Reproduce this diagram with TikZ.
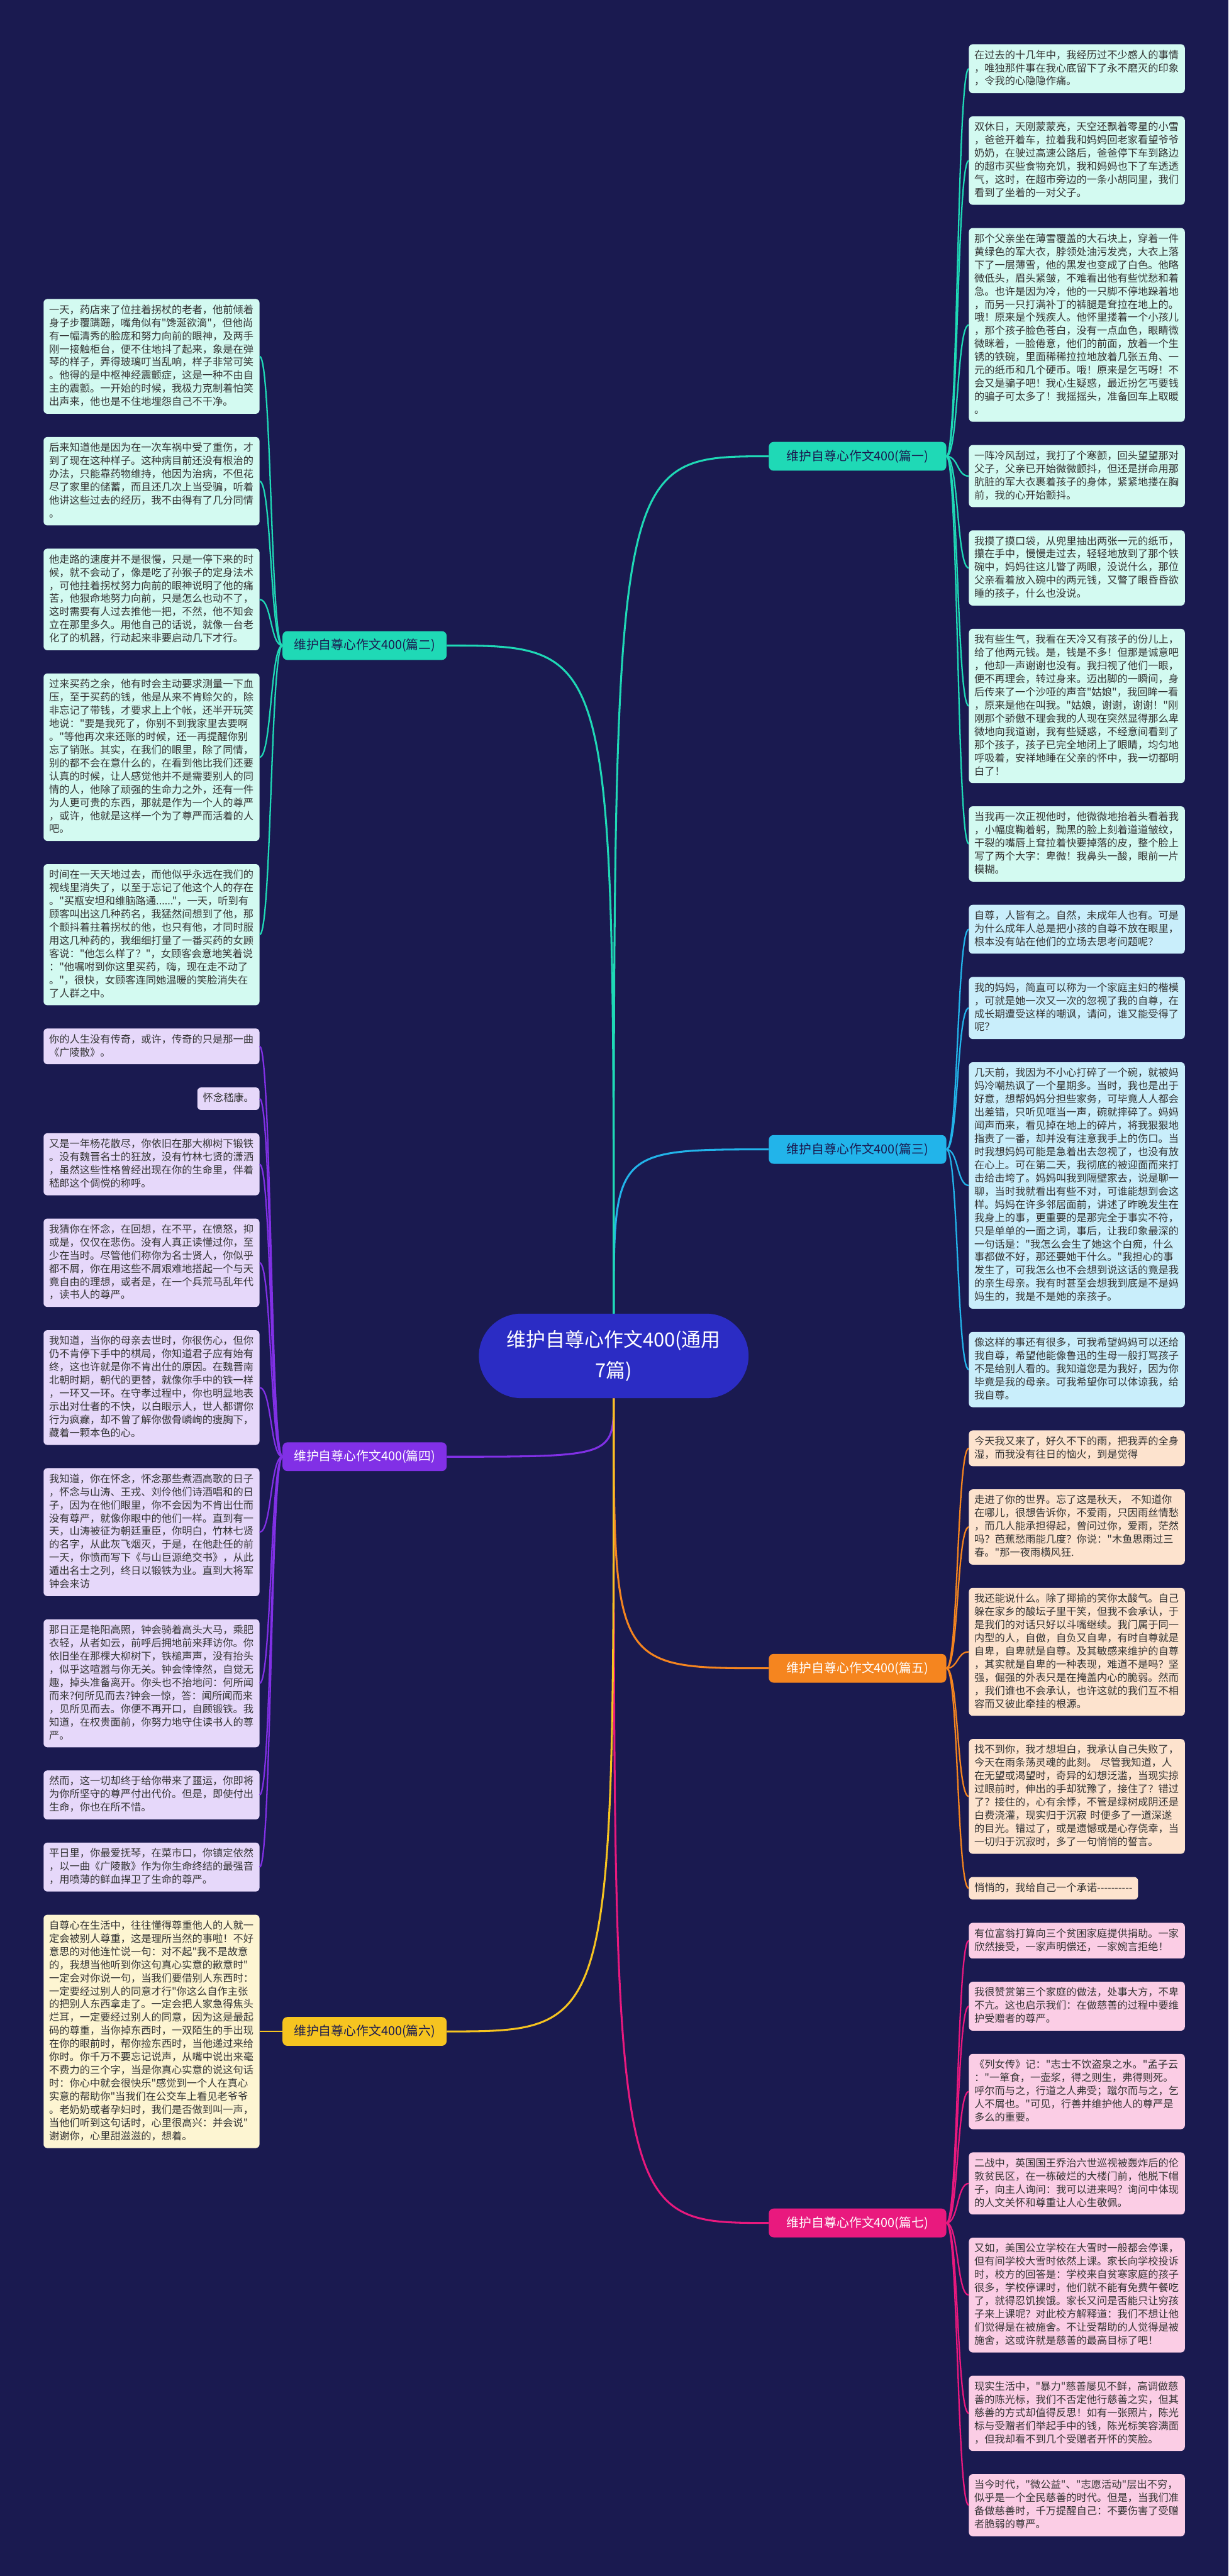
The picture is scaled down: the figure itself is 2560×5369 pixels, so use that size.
\documentclass[tikz,border=0pt]{standalone}
\usepackage{fontspec}
\newfontfamily\cjk{Noto Sans CJK SC}
\usepackage{tikz}
\usetikzlibrary{positioning, calc}
\definecolor{night}{HTML}{1A1A50}
\definecolor{hubblue}{HTML}{2B2CC4}
\definecolor{tealmain}{HTML}{1FD9B6}
\definecolor{tealsoft}{HTML}{D3FAF1}
\definecolor{skymain}{HTML}{22B4EA}
\definecolor{skysoft}{HTML}{C9EEFB}
\definecolor{violetmain}{HTML}{8130E6}
\definecolor{violetsoft}{HTML}{E6D8FA}
\definecolor{orangemain}{HTML}{F5851F}
\definecolor{orangesoft}{HTML}{FDE3CE}
\definecolor{goldmain}{HTML}{F6C420}
\definecolor{goldsoft}{HTML}{FDF5D2}
\definecolor{rosemain}{HTML}{E9197E}
\definecolor{rosesoft}{HTML}{FBCDE5}
\definecolor{inkgray}{HTML}{333333}
\setlength{\parindent}{0pt}
\newcommand{\leafstrut}{\rule[-7.45pt]{0pt}{27.45pt}}
\newcommand{\hy}{-\kern0pt}

\begin{document}
\begin{tikzpicture}[x=1pt, y=-1pt,
  hub/.style={rectangle, rounded corners=88pt, fill=hubblue, text=white, minimum width=562pt,
    minimum height=176pt, align=center, font=\cjk\fontsize{40.5}{65}\selectfont},
  essay/.style={rectangle, rounded corners=10pt, minimum height=60pt, inner sep=0pt,
    font=\cjk\fontsize{26}{30}\selectfont},
  leaf/.style={rectangle, rounded corners=8pt, inner xsep=11.5pt, inner ysep=9.8pt, align=left,
    text=inkgray, font=\cjk\fontsize{21.3}{27.45}\selectfont,
    execute at begin node=\leafstrut, execute at end node=\leafstrut},
  wide/.style={text width=427pt},
  stem/.style={line width=4pt},
  link/.style={line width=3pt}]

  \useasboundingbox (0,0) rectangle (2560,5369);
  \fill[night] (0,0) rectangle (2560,5369);

  \node[hub] (hub) at (1279,2826) {维护自尊心作文400(通用\\7篇)};
  \coordinate (rcol) at (1602,0);
  \coordinate (lcol) at (931,0);

  % right column
  \node[leaf, wide, fill=tealsoft, anchor=north west] (one1) at (2019,92) {在过去的十几年中，我经历过不少感人的事情\\，唯独那件事在我心底留下了永不磨灭的印象\\，令我的心隐隐作痛。};
  \node[leaf, wide, fill=tealsoft, below=48pt of one1.south west, anchor=north west] (one2) {双休日，天刚蒙蒙亮，天空还飘着零星的小雪\\，爸爸开着车，拉着我和妈妈回老家看望爷爷\\奶奶，在驶过高速公路后，爸爸停下车到路边\\的超市买些食物充饥，我和妈妈也下了车透透\\气，这时，在超市旁边的一条小胡同里，我们\\看到了坐着的一对父子。};
  \node[leaf, wide, fill=tealsoft, below=48pt of one2.south west, anchor=north west] (one3) {那个父亲坐在薄雪覆盖的大石块上，穿着一件\\黄绿色的军大衣，脖领处油污发亮，大衣上落\\下了一层薄雪，他的黑发也变成了白色。他略\\微低头，眉头紧皱，不难看出他有些忧愁和着\\急。也许是因为冷，他的一只脚不停地跺着地\\，而另一只打满补丁的裤腿是耷拉在地上的。\\哦！原来是个残疾人。他怀里搂着一个小孩儿\\，那个孩子脸色苍白，没有一点血色，眼睛微\\微眯着，一脸倦意，他们的前面，放着一个生\\锈的铁碗，里面稀稀拉拉地放着几张五角、一\\元的纸币和几个硬币。哦！原来是乞丐呀！不\\会又是骗子吧！我心生疑惑，最近扮乞丐要钱\\的骗子可太多了！我摇摇头，准备回车上取暖\\。};
  \node[leaf, wide, fill=tealsoft, below=48pt of one3.south west, anchor=north west] (one4) {一阵冷风刮过，我打了个寒颤，回头望望那对\\父子，父亲已开始微微颤抖，但还是拼命用那\\肮脏的军大衣裹着孩子的身体，紧紧地搂在胸\\前，我的心开始颤抖。};
  \node[leaf, wide, fill=tealsoft, below=48pt of one4.south west, anchor=north west] (one5) {我摸了摸口袋，从兜里抽出两张一元的纸币，\\攥在手中，慢慢走过去，轻轻地放到了那个铁\\碗中，妈妈往这儿瞥了两眼，没说什么，那位\\父亲看着放入碗中的两元钱，又瞥了眼昏昏欲\\睡的孩子，什么也没说。};
  \node[leaf, wide, fill=tealsoft, below=48pt of one5.south west, anchor=north west] (one6) {我有些生气，我看在天冷又有孩子的份儿上，\\给了他两元钱。是，钱是不多！但那是诚意吧\\，他却一声谢谢也没有。我扫视了他们一眼，\\便不再理会，转过身来。迈出脚的一瞬间，身\\后传来了一个沙哑的声音"姑娘"，我回眸一看\\，原来是他在叫我。"姑娘，谢谢，谢谢！"刚\\刚那个骄傲不理会我的人现在突然显得那么卑\\微地向我道谢，我有些疑惑，不经意间看到了\\那个孩子，孩子已完全地闭上了眼睛，均匀地\\呼吸着，安祥地睡在父亲的怀中，我一切都明\\白了！};
  \node[leaf, wide, fill=tealsoft, below=48pt of one6.south west, anchor=north west] (one7) {当我再一次正视他时，他微微地抬着头看着我\\，小幅度鞠着躬，黝黑的脸上刻着道道皱纹，\\干裂的嘴唇上耷拉着快要掉落的皮，整个脸上\\写了两个大字：卑微！我鼻头一酸，眼前一片\\模糊。};

  \node[leaf, wide, fill=skysoft, below=48pt of one7.south west, anchor=north west] (three1) {自尊，人皆有之。自然，未成年人也有。可是\\为什么成年人总是把小孩的自尊不放在眼里，\\根本没有站在他们的立场去思考问题呢？};
  \node[leaf, wide, fill=skysoft, below=48pt of three1.south west, anchor=north west] (three2) {我的妈妈，简直可以称为一个家庭主妇的楷模\\，可就是她一次又一次的忽视了我的自尊，在\\成长期遭受这样的嘲讽，请问，谁又能受得了\\呢？};
  \node[leaf, wide, fill=skysoft, below=48pt of three2.south west, anchor=north west] (three3) {几天前，我因为不小心打碎了一个碗，就被妈\\妈冷嘲热讽了一个星期多。当时，我也是出于\\好意，想帮妈妈分担些家务，可毕竟人人都会\\出差错，只听见哐当一声，碗就摔碎了。妈妈\\闻声而来，看见掉在地上的碎片，将我狠狠地\\指责了一番，却并没有注意我手上的伤口。当\\时我想妈妈可能是急着出去忽视了，也没有放\\在心上。可在第二天，我彻底的被迎面而来打\\击给击垮了。妈妈叫我到隔壁家去，说是聊一\\聊，当时我就看出有些不对，可谁能想到会这\\样。妈妈在许多邻居面前，讲述了昨晚发生在\\我身上的事，更重要的是那完全于事实不符，\\只是单单的一面之词，事后，让我印象最深的\\一句话是："我怎么会生了她这个白痴，什么\\事都做不好，那还要她干什么。"我担心的事\\发生了，可我怎么也不会想到说这话的竟是我\\的亲生母亲。我有时甚至会想我到底是不是妈\\妈生的，我是不是她的亲孩子。};
  \node[leaf, wide, fill=skysoft, below=48pt of three3.south west, anchor=north west] (three4) {像这样的事还有很多，可我希望妈妈可以还给\\我自尊，希望他能像鲁迅的生母一般打骂孩子\\不是给别人看的。我知道您是为我好，因为你\\毕竟是我的母亲。可我希望你可以体谅我，给\\我自尊。};

  \node[leaf, wide, fill=orangesoft, below=48pt of three4.south west, anchor=north west] (five1) {今天我又来了，好久不下的雨，把我弄的全身\\湿，而我没有往日的恼火，到是觉得};
  \node[leaf, wide, fill=orangesoft, below=48pt of five1.south west, anchor=north west] (five2) {走进了你的世界。忘了这是秋天， 不知道你\\在哪儿，很想告诉你，不爱雨，只因雨丝情愁\\，而几人能承担得起，曾问过你，爱雨，茫然\\吗？芭蕉愁雨能几度？你说："木鱼思雨过三\\春。"那一夜雨横风狂.};
  \node[leaf, wide, fill=orangesoft, below=48pt of five2.south west, anchor=north west] (five3) {我还能说什么。除了揶揄的笑你太酸气。自己\\躲在家乡的酸坛子里干笑，但我不会承认，于\\是我们的对话只好以斗嘴继续。我门属于同一\\内型的人，自傲，自负又自卑，有时自尊就是\\自卑，自卑就是自尊。及其敏感来维护的自尊\\，其实就是自卑的一种表现，难道不是吗？坚\\强，倔强的外表只是在掩盖内心的脆弱。然而\\，我们谁也不会承认，也许这就的我们互不相\\容而又彼此牵挂的根源。};
  \node[leaf, wide, fill=orangesoft, below=48pt of five3.south west, anchor=north west] (five4) {找不到你，我才想坦白，我承认自己失败了，\\今天在雨条荡灵魂的此刻。 尽管我知道，人\\在无望或渴望时，奇异的幻想泛滥，当现实掠\\过眼前时，伸出的手却犹豫了，接住了？错过\\了？接住的，心有余悸，不管是绿树成阴还是\\白费浇灌，现实归于沉寂 时便多了一道深遂\\的目光。错过了，或是遗憾或是心存侥幸，当\\一切归于沉寂时，多了一句悄悄的誓言。};
  \node[leaf, fill=orangesoft, below=48pt of five4.south west, anchor=north west] (five5) {悄悄的，我给自己一个承诺\hy\hy\hy\hy\hy\hy\hy\hy\hy\hy};

  \node[leaf, wide, fill=rosesoft, below=48pt of five5.south west, anchor=north west] (seven1) {有位富翁打算向三个贫困家庭提供捐助。一家\\欣然接受，一家声明偿还，一家婉言拒绝！};
  \node[leaf, wide, fill=rosesoft, below=48pt of seven1.south west, anchor=north west] (seven2) {我很赞赏第三个家庭的做法，处事大方，不卑\\不亢。这也启示我们：在做慈善的过程中要维\\护受赠者的尊严。};
  \node[leaf, wide, fill=rosesoft, below=48pt of seven2.south west, anchor=north west] (seven3) {《列女传》记："志士不饮盗泉之水。"孟子云\\："一箪食，一壶浆，得之则生，弗得则死。\\呼尔而与之，行道之人弗受；蹴尔而与之，乞\\人不屑也。"可见，行善并维护他人的尊严是\\多么的重要。};
  \node[leaf, wide, fill=rosesoft, below=48pt of seven3.south west, anchor=north west] (seven4) {二战中，英国国王乔治六世巡视被轰炸后的伦\\敦贫民区，在一栋破烂的大楼门前，他脱下帽\\子，向主人询问：我可以进来吗？询问中体现\\的人文关怀和尊重让人心生敬佩。};
  \node[leaf, wide, fill=rosesoft, below=48pt of seven4.south west, anchor=north west] (seven5) {又如，美国公立学校在大雪时一般都会停课，\\但有间学校大雪时依然上课。家长向学校投诉\\时，校方的回答是：学校来自贫寒家庭的孩子\\很多，学校停课时，他们就不能有免费午餐吃\\了，就得忍饥挨饿。家长又问是否能只让穷孩\\子来上课呢？对此校方解释道：我们不想让他\\们觉得是在被施舍。不让受帮助的人觉得是被\\施舍，这或许就是慈善的最高目标了吧！};
  \node[leaf, wide, fill=rosesoft, below=48pt of seven5.south west, anchor=north west] (seven6) {现实生活中，"暴力"慈善屡见不鲜，高调做慈\\善的陈光标，我们不否定他行慈善之实，但其\\慈善的方式却值得反思！如有一张照片，陈光\\标与受赠者们举起手中的钱，陈光标笑容满面\\，但我却看不到几个受赠者开怀的笑脸。};
  \node[leaf, wide, fill=rosesoft, below=48pt of seven6.south west, anchor=north west] (seven7) {当今时代，"微公益"、"志愿活动"层出不穷，\\似乎是一个全民慈善的时代。但是，当我们准\\备做慈善时，千万提醒自己：不要伤害了受赠\\者脆弱的尊严。};

  % left column
  \node[leaf, wide, fill=tealsoft, anchor=north east] (two1) at (541,623) {一天，药店来了位拄着拐杖的老者，他前倾着\\身子步覆蹒跚，嘴角似有"馋涎欲滴"，但他尚\\有一幅清秀的脸庞和努力向前的眼神，及两手\\刚一接触柜台，便不住地抖了起来，象是在弹\\琴的样子，弄得玻璃叮当乱响，样子非常可笑\\。他得的是中枢神经震颤症，这是一种不由自\\主的震颤。一开始的时候，我极力克制着怕笑\\出声来，他也是不住地埋怨自己不干净。};
  \node[leaf, wide, fill=tealsoft, below=48pt of two1.south east, anchor=north east] (two2) {后来知道他是因为在一次车祸中受了重伤，才\\到了现在这种样子。这种病目前还没有根治的\\办法，只能靠药物维持，他因为治病，不但花\\尽了家里的储蓄，而且还几次上当受骗，听着\\他讲这些过去的经历，我不由得有了几分同情\\。};
  \node[leaf, wide, fill=tealsoft, below=48pt of two2.south east, anchor=north east] (two3) {他走路的速度并不是很慢，只是一停下来的时\\候，就不会动了，像是吃了孙猴子的定身法术\\，可他拄着拐杖努力向前的眼神说明了他的痛\\苦，他狠命地努力向前，只是怎么也动不了，\\这时需要有人过去推他一把，不然，他不知会\\立在那里多久。用他自己的话说，就像一台老\\化了的机器，行动起来非要启动几下才行。};
  \node[leaf, wide, fill=tealsoft, below=48pt of two3.south east, anchor=north east] (two4) {过来买药之余，他有时会主动要求测量一下血\\压，至于买药的钱，他是从来不肯赊欠的，除\\非忘记了带钱，才要求上上个帐，还半开玩笑\\地说："要是我死了，你别不到我家里去要啊\\。"等他再次来还账的时候，还一再提醒你别\\忘了销账。其实，在我们的眼里，除了同情，\\别的都不会在意什么的，在看到他比我们还要\\认真的时候，让人感觉他并不是需要别人的同\\情的人，他除了顽强的生命力之外，还有一件\\为人更可贵的东西，那就是作为一个人的尊严\\，或许，他就是这样一个为了尊严而活着的人\\吧。};
  \node[leaf, wide, fill=tealsoft, below=48pt of two4.south east, anchor=north east] (two5) {时间在一天天地过去，而他似乎永远在我们的\\视线里消失了，以至于忘记了他这个人的存在\\。"买瓶安坦和维脑路通......"，一天，听到有\\顾客叫出这几种药名，我猛然间想到了他，那\\个颤抖着拄着拐杖的他，也只有他，才同时服\\用这几种药的，我细细打量了一番买药的女顾\\客说："他怎么样了？"，女顾客会意地笑着说\\："他嘱咐到你这里买药，嗨，现在走不动了\\。"，很快，女顾客连同她温暖的笑脸消失在\\了人群之中。};

  \node[leaf, wide, fill=violetsoft, below=48pt of two5.south east, anchor=north east] (four1) {你的人生没有传奇，或许，传奇的只是那一曲\\《广陵散》。};
  \node[leaf, fill=violetsoft, below=48pt of four1.south east, anchor=north east] (four2) {怀念嵇康。};
  \node[leaf, wide, fill=violetsoft, below=48pt of four2.south east, anchor=north east] (four3) {又是一年杨花散尽，你依旧在那大柳树下锻铁\\。没有魏晋名士的狂放，没有竹林七贤的潇洒\\，虽然这些性格曾经出现在你的生命里，伴着\\嵇郎这个倜傥的称呼。};
  \node[leaf, wide, fill=violetsoft, below=48pt of four3.south east, anchor=north east] (four4) {我猜你在怀念，在回想，在不平，在愤怒，抑\\或是，仅仅在悲伤。没有人真正读懂过你，至\\少在当时。尽管他们称你为名士贤人，你似乎\\都不屑，你在用这些不屑艰难地搭起一个与天\\竟自由的理想，或者是，在一个兵荒马乱年代\\，读书人的尊严。};
  \node[leaf, wide, fill=violetsoft, below=48pt of four4.south east, anchor=north east] (four5) {我知道，当你的母亲去世时，你很伤心，但你\\仍不肯停下手中的棋局，你知道君子应有始有\\终，这也许就是你不肯出仕的原因。在魏晋南\\北朝时期，朝代的更替，就像你手中的铁一样\\，一环又一环。在守孝过程中，你也明显地表\\示出对仕者的不快，以白眼示人，世人都谓你\\行为疯癫，却不曾了解你傲骨嶙峋的瘦胸下，\\藏着一颗本色的心。};
  \node[leaf, wide, fill=violetsoft, below=48pt of four5.south east, anchor=north east] (four6) {我知道，你在怀念，怀念那些煮酒高歌的日子\\，怀念与山涛、王戎、刘伶他们诗酒唱和的日\\子，因为在他们眼里，你不会因为不肯出仕而\\没有尊严，就像你眼中的他们一样。直到有一\\天，山涛被征为朝廷重臣，你明白，竹林七贤\\的名字，从此灰飞烟灭，于是，在他赴任的前\\一天，你愤而写下《与山巨源绝交书》，从此\\遁出名士之列，终日以锻铁为业。直到大将军\\钟会来访};
  \node[leaf, wide, fill=violetsoft, below=48pt of four6.south east, anchor=north east] (four7) {那日正是艳阳高照，钟会骑着高头大马，乘肥\\衣轻，从者如云，前呼后拥地前来拜访你。你\\依旧坐在那棵大柳树下，铁槌声声，没有抬头\\，似乎这喧嚣与你无关。钟会悻悻然，自觉无\\趣，掉头准备离开。你头也不抬地问：何所闻\\而来?何所见而去?钟会一惊，答：闻所闻而来\\，见所见而去。你便不再开口，自顾锻铁。我\\知道，在权贵面前，你努力地守住读书人的尊\\严。};
  \node[leaf, wide, fill=violetsoft, below=48pt of four7.south east, anchor=north east] (four8) {然而，这一切却终于给你带来了噩运，你即将\\为你所坚守的尊严付出代价。但是，即使付出\\生命，你也在所不惜。};
  \node[leaf, wide, fill=violetsoft, below=48pt of four8.south east, anchor=north east] (four9) {平日里，你最爱抚琴，在菜市口，你镇定依然\\，以一曲《广陵散》作为你生命终结的最强音\\，用喷薄的鲜血捍卫了生命的尊严。};

  \node[leaf, wide, fill=goldsoft, below=48pt of four9.south east, anchor=north east] (six1) {自尊心在生活中，往往懂得尊重他人的人就一\\定会被别人尊重，这是理所当然的事啦！不好\\意思的对他连忙说一句：对不起"我不是故意\\的，我想当他听到你这句真心实意的歉意时"\\一定会对你说一句，当我们要借别人东西时：\\一定要经过别人的同意才行"你这么自作主张\\的把别人东西拿走了。一定会把人家急得焦头\\烂耳，一定要经过别人的同意，因为这是最起\\码的尊重，当你掉东西时，一双陌生的手出现\\在你的眼前时，帮你捡东西时，当他递过来给\\你时。你千万不要忘记说声，从嘴中说出来毫\\不费力的三个字，当是你真心实意的说这句话\\时：你心中就会很快乐"感觉到一个人在真心\\实意的帮助你"当我们在公交车上看见老爷爷\\。老奶奶或者孕妇时，我们是否做到叫一声，\\当他们听到这句话时，心里很高兴：并会说"\\谢谢你，心里甜滋滋的，想着。};

  % branches
  \path ($(one1.west)!0.5!(one7.west)$) coordinate (m1);
  \path ($(two1.east)!0.5!(two5.east)$) coordinate (m2);
  \path ($(three1.west)!0.5!(three4.west)$) coordinate (m3);
  \path ($(four1.east)!0.5!(four9.east)$) coordinate (m4);
  \path ($(five1.west)!0.5!(five5.west)$) coordinate (m5);
  \path (six1.east) coordinate (m6);
  \path ($(seven1.west)!0.5!(seven7.west)$) coordinate (m7);

  \node[essay, minimum width=370pt, fill=tealmain, text=night, anchor=west] (essay1) at (m1 -| rcol) {维护自尊心作文400(篇一)};
  \node[essay, minimum width=342pt, fill=tealmain, text=night, anchor=east] (essay2) at (m2 -| lcol) {维护自尊心作文400(篇二)};
  \node[essay, minimum width=370pt, fill=skymain, text=night, anchor=west] (essay3) at (m3 -| rcol) {维护自尊心作文400(篇三)};
  \node[essay, minimum width=342pt, fill=violetmain, text=white, anchor=east] (essay4) at (m4 -| lcol) {维护自尊心作文400(篇四)};
  \node[essay, minimum width=370pt, fill=orangemain, text=white, anchor=west] (essay5) at (m5 -| rcol) {维护自尊心作文400(篇五)};
  \node[essay, minimum width=342pt, fill=goldmain, text=night, anchor=east] (essay6) at (m6 -| lcol) {维护自尊心作文400(篇六)};
  \node[essay, minimum width=370pt, fill=rosemain, text=white, anchor=west] (essay7) at (m7 -| rcol) {维护自尊心作文400(篇七)};

  \foreach \e/\c in {1/tealmain, 3/skymain}
    \draw[stem, \c] (hub.north) .. controls (hub.north |- essay\e.west) .. (essay\e.west);
  \draw[stem, tealmain] (hub.north) .. controls (hub.north |- essay2.east) .. (essay2.east);
  \foreach \e/\c in {5/orangemain, 7/rosemain}
    \draw[stem, \c] (hub.south) .. controls (hub.south |- essay\e.west) .. (essay\e.west);
  \foreach \e/\c in {4/violetmain, 6/goldmain}
    \draw[stem, \c] (hub.south) .. controls (hub.south |- essay\e.east) .. (essay\e.east);

  \foreach \k in {1,...,7}
    \draw[link, tealmain] (essay1.east) .. controls +(25,0) and +(-25,0) .. (one\k.west);
  \foreach \k in {1,...,5}
    \draw[link, tealmain] (essay2.west) .. controls +(-25,0) and +(25,0) .. (two\k.east);
  \foreach \k in {1,...,4}
    \draw[link, skymain] (essay3.east) .. controls +(25,0) and +(-25,0) .. (three\k.west);
  \foreach \k in {1,...,9}
    \draw[link, violetmain] (essay4.west) .. controls +(-25,0) and +(25,0) .. (four\k.east);
  \foreach \k in {1,...,5}
    \draw[link, orangemain] (essay5.east) .. controls +(25,0) and +(-25,0) .. (five\k.west);
  \draw[link, goldmain] (essay6.west) .. controls +(-25,0) and +(25,0) .. (six1.east);
  \foreach \k in {1,...,7}
    \draw[link, rosemain] (essay7.east) .. controls +(25,0) and +(-25,0) .. (seven\k.west);
\end{tikzpicture}
\end{document}
